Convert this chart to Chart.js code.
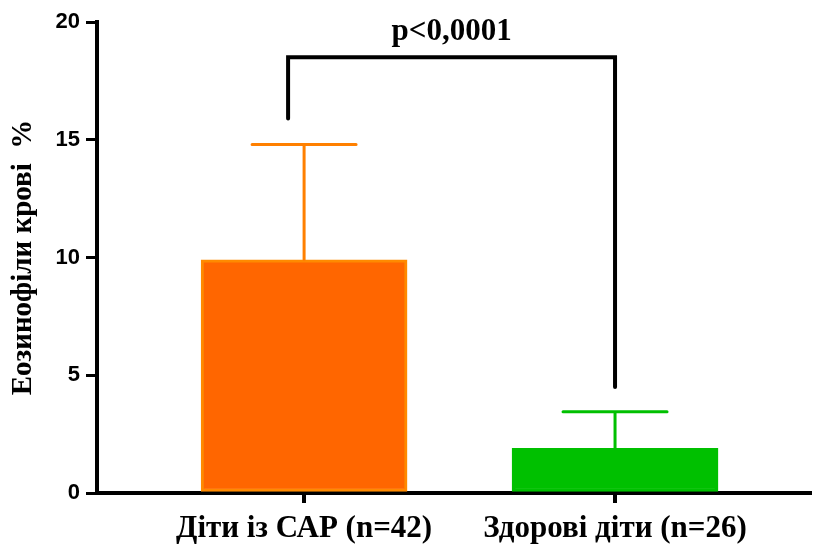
<!DOCTYPE html>
<html>
<head>
<meta charset="utf-8">
<script src="https://cdn.jsdelivr.net/npm/chart.js@4.4.0/dist/chart.umd.min.js"></script>
<style>
    html, body { margin: 0; padding: 0; background: #fff; }
    #wrap { width: 815px; height: 545px; }
</style>
</head>
<body>
<div id="wrap"><canvas id="chart"></canvas></div>
<script>
// Data
const groups = ["Діти із САР (n=42)", "Здорові діти (n=26)"];
const groupX = [1, 2];
const means = [9.9, 1.9];
const errTop = [14.8, 3.45];
const yTicks = [0, 5, 10, 15, 20];
const bracket = [15.9, 18.5, 4.5]; // left end, top, right end
const pLabel = "p<0,0001";

const barFill = ["#ff6600", "#00c000"];
const barEdge = ["#ff8a00", "#00c000"];
const errColor = ["#ff8000", "#00c000"];

// error bars + significance bracket
const overlay = {
    id: "overlay",
    afterDatasetsDraw(chart) {
        const ctx = chart.ctx;
        const x = chart.scales.x;
        const y = chart.scales.y;
        ctx.save();
        ctx.lineCap = "round";
        groupX.forEach((g, i) => {
            const px = x.getPixelForValue(g);
            ctx.strokeStyle = errColor[i];
            ctx.lineWidth = 3;
            ctx.beginPath();
            ctx.moveTo(px, y.getPixelForValue(means[i]));
            ctx.lineTo(px, y.getPixelForValue(errTop[i]));
            ctx.moveTo(px - 52, y.getPixelForValue(errTop[i]));
            ctx.lineTo(px + 52, y.getPixelForValue(errTop[i]));
            ctx.stroke();
        });

        const x1 = x.getPixelForValue(groupX[0]) - 16;
        const x2 = x.getPixelForValue(groupX[1]);
        ctx.strokeStyle = "#000";
        ctx.lineWidth = 4;
        ctx.lineJoin = "miter";
        ctx.beginPath();
        ctx.moveTo(x1, y.getPixelForValue(bracket[0]));
        ctx.lineTo(x1, y.getPixelForValue(bracket[1]));
        ctx.lineTo(x2, y.getPixelForValue(bracket[1]));
        ctx.lineTo(x2, y.getPixelForValue(bracket[2]));
        ctx.stroke();

        ctx.fillStyle = "#000";
        ctx.font = "bold 31px 'Liberation Serif', 'Times New Roman', serif";
        ctx.textAlign = "center";
        ctx.textBaseline = "middle";
        ctx.fillText(pLabel, (x1 + x2) / 2, y.getPixelForValue(bracket[1]) - 25);
        ctx.restore();
    }
};

const ctx = document.getElementById("chart").getContext("2d");
new Chart(ctx, {
    type: "bar",
    data: {
        datasets: [{
            data: groupX.map((g, i) => ({ x: g, y: means[i] })),
            backgroundColor: barFill,
            borderColor: barEdge,
            borderWidth: 3,
            borderSkipped: false,
            barThickness: 206
        }]
    },
    options: {
        responsive: true,
        maintainAspectRatio: false,
        animation: false,
        layout: { padding: { top: 22, right: 5, left: 0, bottom: 0 } },
        plugins: { legend: { display: false }, tooltip: { enabled: false } },
        scales: {
            x: {
                type: "linear",
                min: 0.334,
                max: 2.627,
                offset: false,
                afterBuildTicks: s => { s.ticks = groupX.map(v => ({ value: v })); },
                afterFit: s => { s.height = 52; },
                border: { display: true, color: "#000", width: 4 },
                grid: { offset: false, drawOnChartArea: false, drawTicks: true, tickLength: 10, color: "#000", lineWidth: 4 },
                ticks: {
                    color: "#000",
                    padding: 7,
                    maxRotation: 0,
                    autoSkip: false,
                    font: { family: "'Liberation Serif', 'Times New Roman', serif", size: 31, weight: "bold" },
                    callback: v => groups[groupX.indexOf(v)]
                }
            },
            y: {
                min: 0,
                max: 20,
                afterBuildTicks: s => { s.ticks = yTicks.map(v => ({ value: v })); },
                afterFit: s => { s.width = 97; },
                border: { display: true, color: "#000", width: 4 },
                grid: { drawOnChartArea: false, drawTicks: true, tickLength: 11, color: "#000", lineWidth: 3 },
                ticks: {
                    color: "#000",
                    padding: 6,
                    font: { family: "'Liberation Sans', Arial, sans-serif", size: 22, weight: "bold" }
                },
                title: {
                    display: true,
                    text: "Еозинофіли крові  %",
                    color: "#000",
                    padding: { top: 6, bottom: 0 },
                    font: { family: "'Liberation Serif', 'Times New Roman', serif", size: 29, weight: "bold" }
                }
            }
        }
    },
    plugins: [overlay]
});
</script>
</body>
</html>
